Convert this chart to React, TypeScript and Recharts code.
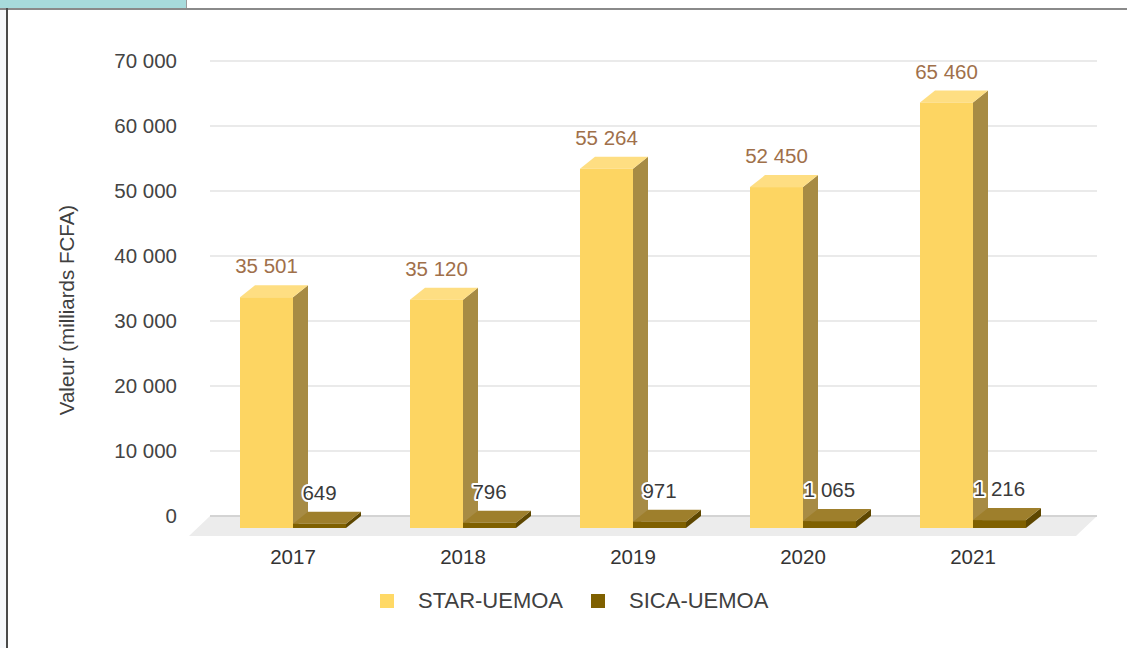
import React from 'react';
import { BarChart, Bar, XAxis, YAxis, CartesianGrid, LabelList } from 'recharts';

const years = ['2017', '2018', '2019', '2020', '2021'];
const starValues = [35501, 35120, 55264, 52450, 65460];
const sicaValues = [649, 796, 971, 1065, 1216];
const yTicks = [0, 10000, 20000, 30000, 40000, 50000, 60000, 70000];
const seriesNames = ['STAR-UEMOA', 'SICA-UEMOA'];
const yAxisTitle = 'Valeur (milliards FCFA)';

const data = years.map((year, i) => ({ year, star: starValues[i], sica: sicaValues[i] }));

const W = 1127;
const H = 648;
const PLOT_LEFT = 210;
const PLOT_RIGHT = 1097;
const PLOT_TOP = 61;
const PLOT_BOTTOM = 516;
const DX = 15;
const DY = 12;
const FONT = '"Liberation Sans", Arial, sans-serif';

const STAR = { front: '#FDD562', top: '#FEDE82', side: '#A78B44', legend: '#FFD966' };
const SICA = { front: '#7F6000', top: '#9E7F2C', side: '#5E4700', legend: '#7F6000' };

const fmt = (v: number) => String(v).replace(/\B(?=(\d{3})+(?!\d))/g, ' ');

const makeShape = (c: { front: string; top: string; side: string }) => (props: any) => {
  const { x, y, width, height } = props;
  if (x == null || width == null) return null;
  const fx = x - DX;
  const fy = y + DY;
  return (
    <g>
      <polygon
        points={`${x + width - DX},${fy} ${x + width},${y} ${x + width},${y + height} ${x + width - DX},${fy + height}`}
        fill={c.side}
      />
      <polygon points={`${fx},${fy} ${x},${y} ${x + width},${y} ${x + width - DX},${fy}`} fill={c.top} />
      <rect x={fx} y={fy} width={width} height={Math.max(height, 0)} fill={c.front} />
    </g>
  );
};

const makeLabel = (color: string, halo: boolean) => (props: any) => {
  const vb = props.viewBox || {};
  const x = props.x ?? vb.x;
  const y = props.y ?? vb.y;
  const width = props.width ?? vb.width;
  const value = props.value;
  if (x == null || value == null) return null;
  return (
    <text
      x={x + width / 2 - DX}
      y={y - 12}
      textAnchor="middle"
      fill={color}
      fontSize={20.5}
      fontFamily={FONT}
      stroke={halo ? '#ffffff' : 'none'}
      strokeWidth={halo ? 4 : 0}
      strokeLinejoin="round"
      paintOrder="stroke"
    >
      {fmt(Number(value))}
    </text>
  );
};

const XTick = (props: any) => {
  const { x, y, payload } = props;
  return (
    <text x={x - DX} y={y + 48} textAnchor="middle" fill="#333333" fontSize={20.5} fontFamily={FONT}>
      {payload.value}
    </text>
  );
};

const YTick = (props: any) => {
  const { x, y, payload } = props;
  return (
    <text x={x} y={y + 7} textAnchor="end" fill="#444444" fontSize={20.5} fontFamily={FONT}>
      {fmt(payload.value)}
    </text>
  );
};

export default function App() {
  const legendItems = [
    { name: seriesNames[0], color: STAR.legend },
    { name: seriesNames[1], color: SICA.legend },
  ];
  return (
    <div style={{ position: 'absolute', left: 0, top: 0, width: W, height: H, background: '#ffffff', overflow: 'hidden' }}>
      {/* frame */}
      <div style={{ position: 'absolute', left: 0, top: 0, width: 7, height: H, background: '#f6f8fb' }} />
      <div style={{ position: 'absolute', left: 0, top: 0, width: 186, height: 8, background: '#a7dbdc' }} />
      <div style={{ position: 'absolute', left: 186, top: 0, width: 1, height: 8, background: '#9a9a9a' }} />
      <div style={{ position: 'absolute', left: 0, top: 8, width: W, height: 2, background: '#8a8a8a' }} />
      <div style={{ position: 'absolute', left: 6, top: 8, width: 2, height: H, background: '#4a4a4a' }} />

      {/* floor */}
      <svg style={{ position: 'absolute', left: 0, top: 0 }} width={W} height={H}>
        <polygon
          points={`${PLOT_LEFT},${PLOT_BOTTOM} ${PLOT_RIGHT},${PLOT_BOTTOM} ${PLOT_RIGHT - 21},${PLOT_BOTTOM + 20} ${PLOT_LEFT - 21},${PLOT_BOTTOM + 20}`}
          fill="#ececec"
        />
        <line x1={PLOT_LEFT} x2={PLOT_RIGHT} y1={PLOT_BOTTOM} y2={PLOT_BOTTOM} stroke="#8c8c8c" strokeWidth={1.5} />
      </svg>

      <div style={{ position: 'absolute', left: 0, top: 0 }}>
        <BarChart
          width={W}
          height={H}
          data={data}
          margin={{ top: PLOT_TOP, right: W - PLOT_RIGHT, bottom: H - PLOT_BOTTOM - 40, left: 0 }}
          barGap={0}
          barSize={53}
        >
          <CartesianGrid vertical={false} stroke="#e3e3e3" strokeWidth={1.5} />
          <XAxis
            dataKey="year"
            height={40}
            padding={{ left: 13, right: 24 }}
            axisLine={false}
            tickLine={false}
            tickSize={0}
            tickMargin={0}
            tick={<XTick />}
            interval={0}
          />
          <YAxis
            width={PLOT_LEFT}
            domain={[0, 70000]}
            ticks={yTicks}
            axisLine={false}
            tickLine={false}
            tickSize={0}
            tickMargin={33}
            tick={<YTick />}
            interval={0}
          />
          <Bar dataKey="star" name={seriesNames[0]} fill={STAR.front} shape={makeShape(STAR)} isAnimationActive={false}>
            <LabelList dataKey="star" content={makeLabel('#A0704A', false)} />
          </Bar>
          <Bar dataKey="sica" name={seriesNames[1]} fill={SICA.front} shape={makeShape(SICA)} isAnimationActive={false}>
            <LabelList dataKey="sica" content={makeLabel('#3a3a3a', true)} />
          </Bar>
        </BarChart>
      </div>

      {/* y axis title */}
      <div
        style={{
          position: 'absolute',
          left: 67,
          top: 310,
          transform: 'translate(-50%, -50%) rotate(-90deg)',
          whiteSpace: 'nowrap',
          fontFamily: FONT,
          fontSize: 20.5,
          color: '#404040',
          lineHeight: 1,
        }}
      >
        {yAxisTitle}
      </div>

      {/* legend */}
      <div
        style={{
          position: 'absolute',
          left: 380,
          top: 594,
          height: 14,
          display: 'flex',
          alignItems: 'center',
          fontFamily: FONT,
          fontSize: 22,
          color: '#404040',
          whiteSpace: 'nowrap',
        }}
      >
        {legendItems.map((it, i) => (
          <div key={it.name} style={{ display: 'flex', alignItems: 'center', marginRight: i === 0 ? 28 : 0 }}>
            <div style={{ width: 14, height: 14, background: it.color, marginRight: 24 }} />
            <span style={{ lineHeight: 1 }}>{it.name}</span>
          </div>
        ))}
      </div>
    </div>
  );
}
